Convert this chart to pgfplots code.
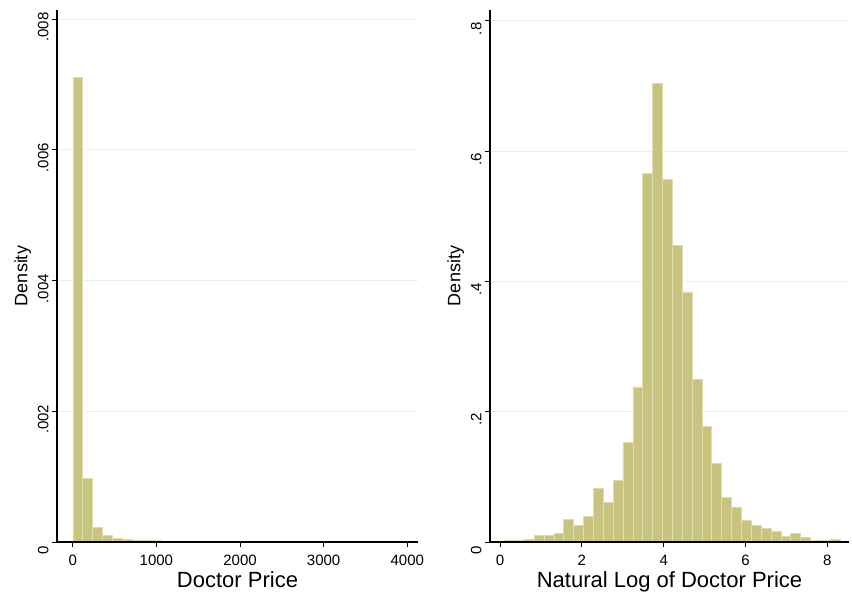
\documentclass[border=0pt]{standalone}
\usepackage{pgfplots}
\pgfplotsset{compat=1.18}
\usepackage{fontspec}
\setmainfont{Liberation Sans}
\definecolor{barfill}{RGB}{200,196,128}
\definecolor{barline}{RGB}{222,219,172}
\definecolor{gridc}{RGB}{232,240,241}

\pgfplotsset{
  stataaxis/.style={
    scale only axis,
    axis x line=bottom, axis y line=left,
    axis line style={-, line width=1.1bp, black},
    tick align=outside,
    major tick length=5bp,
    tick style={line width=1bp, black},
    ymajorgrids,
    grid style={gridc, line width=0.9bp},
    ymin=0,
    scaled y ticks=false, scaled x ticks=false,
    ticklabel style={font=\fontsize{15bp}{18bp}\selectfont},
    yticklabel style={rotate=90, anchor=south, xshift=-8bp},
    xticklabel style={yshift=-5bp},
    xlabel style={font=\fontsize{22bp}{26bp}\selectfont, yshift=1bp},
    ylabel style={font=\fontsize{18bp}{22bp}\selectfont, yshift=0bp},
    /pgf/number format/assume math mode=true,
    clip=false,
  },
  histbar/.style={ybar interval, fill=barfill, draw=barline, line width=0.6bp},
  baseline/.style={black, line width=1.1bp, forget plot},
}

\begin{document}
\begin{tikzpicture}
\useasboundingbox (0,0) rectangle (852bp,600bp);

% left panel
\begin{axis}[stataaxis,
  at={(57bp,58bp)}, anchor=south west,
  width=361bp, height=532bp,
  xmin=-188, xmax=4128, ymax=0.00814,
  xtick={0,1000,2000,3000,4000},
  xticklabels={0,1000,2000,3000,4000},
  ytick={0,0.002,0.004,0.006,0.008},
  yticklabels={0,.002,.004,.006,.008},
  xlabel={Doctor Price}, ylabel={Density},
]
\addplot[histbar] table {
x y
1 0.00711
118.6 0.00097
236.2 0.000228
353.8 0.000100
471.4 0.00006
589 0.00004
706.6 0.00003
824.2 0.000028
941.8 0.00002
1059.4 0.000015
1177 0.000012
1294.6 0.00001
1412.2 0.00001
1529.8 0.000009
1647.4 0.000008
1765 0
1882.6 0
2000.2 0.000009
2117.8 0
2235.4 0.000008
2353 0
2470.6 0.000008
2588.2 0
2705.8 0
2823.4 0
2941 0
3058.6 0
3176.2 0
3293.8 0
3411.4 0
3529 0
3646.6 0
3764.2 0
3881.8 0.000008
3999.4 0
};
\addplot[baseline] coordinates {(-188,0) (4128,0)};
\end{axis}

% right panel
\begin{axis}[stataaxis,
  at={(490bp,58bp)}, anchor=south west,
  width=359bp, height=532bp,
  xmin=-0.245, xmax=8.53, ymax=0.8166,
  xtick={0,2,4,6,8},
  xticklabels={0,2,4,6,8},
  ytick={0,0.2,0.4,0.6,0.8},
  yticklabels={0,.2,.4,.6,.8},
  xlabel={Natural Log of Doctor Price}, ylabel={Density},
]
\addplot[histbar] table {
x y
0.110 0.003
0.351 0.003
0.592 0.004
0.834 0.010
1.075 0.010
1.316 0.013
1.557 0.035
1.798 0.025
2.040 0.039
2.281 0.082
2.522 0.061
2.763 0.094
3.004 0.153
3.246 0.238
3.487 0.566
3.728 0.704
3.969 0.557
4.210 0.455
4.452 0.384
4.693 0.250
4.934 0.177
5.175 0.121
5.416 0.068
5.658 0.054
5.899 0.033
6.140 0.025
6.381 0.021
6.622 0.017
6.864 0.008
7.105 0.013
7.346 0.007
7.587 0.003
7.828 0.003
8.070 0.004
8.311 0
};
\addplot[baseline] coordinates {(-0.245,0) (8.53,0)};
\end{axis}
\end{tikzpicture}
\end{document}
